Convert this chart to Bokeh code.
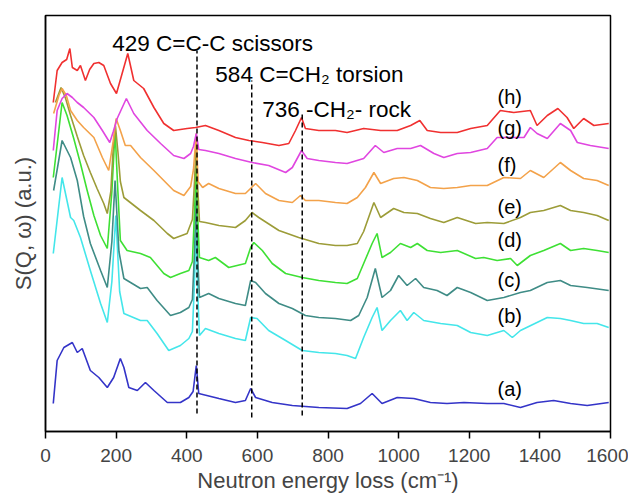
from bokeh.plotting import figure
from bokeh.models import Range1d, FixedTicker
from bokeh.core.properties import value
from bokeh.embed import file_html
from bokeh.resources import INLINE

# ---- data (x: neutron energy loss, cm-1 ; y: S(Q,w) with vertical offsets, a.u.) ----
a_x = [22, 33, 52, 76, 90, 104, 127, 151, 175, 193, 212, 222, 236, 260, 283, 307, 345, 382, 406, 418, 427, 434, 491, 538, 566, 581, 595, 642, 699, 774, 854, 892, 925, 953, 996, 1043, 1090, 1137, 1185, 1251, 1298, 1345, 1392, 1439, 1487, 1534, 1595]
a_y = [28, 71, 84, 89, 79, 83, 61, 54, 44, 54, 73, 64, 44, 41, 49, 41, 29, 29, 34, 40, 66, 38, 33, 29, 31, 43, 34, 29, 26, 24, 23, 28, 38, 28, 34, 33, 29, 28, 29, 28, 28, 24, 29, 31, 28, 26, 29]

b_x = [22, 47, 71, 80, 99, 127, 156, 175, 188, 199, 210, 222, 269, 288, 316, 349, 382, 406, 416, 422, 427, 431, 436, 453, 491, 538, 566, 581, 599, 632, 680, 727, 774, 821, 854, 878, 901, 925, 939, 953, 977, 1005, 1024, 1043, 1071, 1119, 1166, 1204, 1251, 1298, 1322, 1345, 1421, 1458, 1487, 1524, 1562, 1595]
b_y = [178, 254, 214, 211, 194, 161, 128, 109, 150, 216, 140, 118, 111, 111, 98, 81, 86, 93, 100, 150, 206, 140, 96, 103, 98, 93, 91, 114, 113, 101, 91, 81, 79, 78, 76, 73, 94, 114, 124, 101, 111, 121, 111, 119, 111, 108, 106, 99, 96, 101, 94, 101, 114, 113, 111, 108, 108, 104]

c_x = [23, 47, 71, 90, 108, 127, 156, 175, 188, 197, 208, 222, 269, 288, 316, 354, 382, 406, 416, 422, 427, 431, 436, 462, 491, 538, 566, 581, 595, 623, 661, 699, 736, 774, 821, 864, 887, 911, 934, 953, 977, 1000, 1024, 1048, 1071, 1109, 1137, 1166, 1204, 1251, 1298, 1345, 1373, 1421, 1458, 1487, 1534, 1595]
c_y = [241, 291, 274, 251, 215, 188, 161, 144, 190, 251, 180, 153, 143, 144, 131, 116, 119, 124, 132, 180, 241, 175, 134, 138, 133, 128, 126, 151, 149, 138, 128, 123, 116, 114, 113, 111, 116, 134, 163, 134, 141, 156, 146, 153, 144, 141, 136, 144, 139, 131, 134, 139, 141, 149, 151, 146, 144, 141]

d_x = [22, 47, 61, 80, 99, 118, 137, 156, 175, 188, 197, 205, 212, 231, 269, 297, 335, 354, 382, 406, 416, 422, 427, 431, 436, 462, 481, 519, 566, 581, 590, 614, 642, 680, 727, 774, 821, 854, 883, 901, 925, 939, 953, 977, 1005, 1034, 1053, 1081, 1119, 1166, 1218, 1241, 1279, 1317, 1336, 1373, 1411, 1458, 1487, 1524, 1562, 1595]
d_y = [254, 329, 316, 293, 268, 241, 216, 196, 183, 240, 301, 240, 191, 181, 178, 174, 158, 154, 158, 161, 170, 220, 271, 215, 174, 171, 174, 164, 168, 184, 189, 181, 168, 158, 154, 151, 149, 148, 153, 168, 188, 198, 174, 179, 188, 184, 188, 181, 179, 181, 173, 174, 171, 173, 166, 176, 181, 188, 181, 183, 181, 179]

e_x = [28, 44, 57, 71, 90, 108, 127, 146, 165, 175, 185, 192, 198, 205, 212, 222, 269, 307, 345, 363, 401, 416, 422, 427, 431, 436, 453, 491, 538, 566, 585, 604, 661, 717, 774, 821, 854, 883, 901, 930, 949, 986, 1015, 1053, 1090, 1128, 1166, 1218, 1251, 1298, 1345, 1373, 1411, 1458, 1487, 1524, 1562, 1595]
e_y = [329, 344, 333, 316, 295, 276, 259, 243, 228, 218, 240, 285, 306, 280, 250, 234, 221, 211, 198, 193, 198, 212, 250, 291, 245, 210, 209, 206, 204, 211, 219, 214, 201, 194, 188, 186, 186, 188, 200, 229, 214, 223, 219, 218, 213, 209, 214, 208, 209, 208, 214, 219, 221, 226, 221, 219, 216, 211]

f_x = [23, 38, 47, 59, 71, 90, 108, 137, 161, 179, 192, 200, 212, 226, 241, 269, 307, 335, 363, 392, 411, 419, 427, 432, 445, 462, 491, 538, 566, 595, 623, 661, 699, 722, 736, 774, 821, 854, 883, 906, 930, 949, 986, 1015, 1053, 1090, 1128, 1166, 1204, 1251, 1298, 1345, 1373, 1411, 1458, 1487, 1524, 1562, 1595]
f_y = [318, 336, 343, 336, 321, 311, 304, 294, 274, 261, 291, 313, 301, 286, 286, 274, 261, 251, 241, 236, 245, 262, 298, 250, 244, 248, 243, 238, 238, 248, 238, 231, 229, 236, 231, 231, 229, 228, 234, 244, 259, 248, 253, 254, 251, 244, 243, 244, 246, 246, 254, 253, 261, 254, 269, 261, 253, 251, 246]

g_x = [22, 33, 47, 61, 76, 90, 108, 137, 161, 182, 192, 203, 229, 250, 288, 326, 363, 392, 411, 419, 427, 434, 453, 491, 538, 585, 632, 680, 699, 725, 741, 774, 821, 854, 901, 934, 958, 996, 1034, 1062, 1100, 1128, 1166, 1204, 1251, 1279, 1317, 1355, 1373, 1392, 1421, 1458, 1487, 1506, 1543, 1595]
g_y = [281, 321, 333, 338, 334, 329, 324, 314, 301, 289, 300, 313, 333, 318, 301, 288, 276, 273, 278, 285, 298, 282, 281, 278, 273, 269, 266, 259, 264, 281, 273, 271, 269, 268, 273, 286, 279, 283, 283, 286, 278, 274, 278, 279, 283, 294, 294, 294, 304, 298, 293, 308, 301, 289, 286, 283]

h_x = [22, 33, 47, 60, 69, 76, 90, 99, 113, 125, 137, 151, 165, 184, 201, 217, 233, 250, 278, 307, 335, 363, 401, 425, 453, 491, 538, 576, 614, 661, 689, 708, 725, 736, 774, 821, 854, 901, 949, 996, 1034, 1060, 1081, 1119, 1166, 1204, 1251, 1288, 1326, 1373, 1392, 1421, 1451, 1477, 1496, 1524, 1553, 1595]
h_y = [329, 361, 369, 372, 383, 364, 361, 366, 351, 362, 368, 369, 366, 348, 338, 358, 378, 351, 343, 324, 308, 301, 303, 304, 306, 301, 294, 291, 289, 286, 288, 301, 314, 303, 301, 301, 299, 303, 301, 301, 306, 311, 301, 299, 299, 303, 306, 321, 319, 321, 306, 316, 323, 314, 303, 313, 306, 308]

series_names = ["(a)", "(b)", "(c)", "(d)", "(e)", "(f)", "(g)", "(h)"]
series_colors = ["#3434c8", "#44e6ea", "#3f8c86", "#3ee034", "#9c9c38", "#f3a24a", "#e046e0", "#f03030"]
label_x = [1280, 1280, 1280, 1280, 1280, 1280, 1280, 1280]
label_y = [43, 116, 152, 192, 225, 267, 304, 335]

peak_lines = [429, 584, 727]
peak_line_bottom = [18, 14, 16]
peak_line_top = [381, 351, 318]
anno_text = ["429 C=C\u2011C scissors", "584 C=CH\u2082 torsion", "736 \u2011CH\u2082\u2011 rock"]
anno_x = [189, 481, 614]
anno_y = [388, 357, 322]

x_ticks = [0, 200, 400, 600, 800, 1000, 1200, 1400, 1600]

FONT = "Liberation Sans"

p = figure(frame_width=565, frame_height=416,
           x_range=Range1d(0, 1600), y_range=Range1d(0, 416),
           output_backend="svg", toolbar_location=None,
           min_border_left=45, min_border_right=18, min_border_top=15, min_border_bottom=20)

p.grid.visible = False
p.outline_line_color = "black"
p.outline_line_width = 1.5
p.background_fill_color = "white"
p.border_fill_color = "white"

xs_list = [a_x, b_x, c_x, d_x, e_x, f_x, g_x, h_x]
ys_list = [a_y, b_y, c_y, d_y, e_y, f_y, g_y, h_y]
for xs, ys, col in zip(xs_list, ys_list, series_colors):
    p.line(xs, ys, line_color=col, line_width=1.6)

p.segment(x0=peak_lines, x1=peak_lines, y0=peak_line_bottom, y1=peak_line_top,
          line_color="black", line_width=1.5, line_dash="5 3")

p.text(x=anno_x, y=anno_y, text=anno_text, text_font=value(FONT),
       text_font_size="22.5px", text_align="left", text_baseline="alphabetic", text_color="black")

p.text(x=label_x, y=label_y, text=series_names, text_font=value(FONT),
       text_font_size="20px", text_align="left", text_baseline="middle", text_color="black")

xa = p.xaxis[0]
xa.ticker = FixedTicker(ticks=x_ticks)
xa.axis_label = "Neutron energy loss (cm\u207b\u00b9)"
xa.axis_label_text_font = FONT
xa.axis_label_text_font_style = "normal"
xa.axis_label_text_font_size = "22px"
xa.major_label_text_font = FONT
xa.major_label_text_font_size = "19px"
xa.major_tick_in = 0
xa.major_tick_out = 7
xa.minor_tick_line_color = None
xa.axis_line_width = 1.5
xa.major_tick_line_width = 1.5
xa.major_label_standoff = 10
xa.axis_label_standoff = 3

ya = p.yaxis[0]
ya.ticker = FixedTicker(ticks=[])
ya.axis_label = "S(Q, \u03c9) (a.u.)"
ya.axis_label_text_font = FONT
ya.axis_label_text_font_style = "normal"
ya.axis_label_text_font_size = "22px"
ya.major_tick_in = 0
ya.major_tick_out = 0
ya.minor_tick_line_color = None
ya.major_label_text_font_size = "0px"
ya.axis_line_width = 1.5
ya.axis_label_standoff = 10

open("out.html", "w").write(file_html(p, INLINE))
